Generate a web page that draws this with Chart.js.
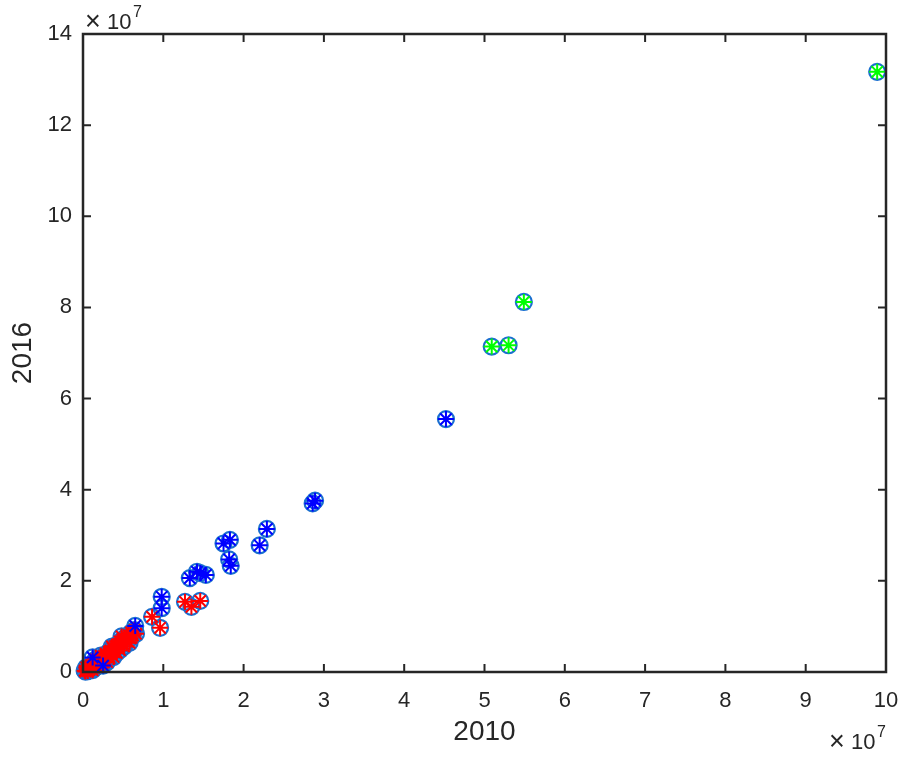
<!DOCTYPE html>
<html>
<head>
<meta charset="utf-8">
<script src="https://cdn.jsdelivr.net/npm/chart.js@4.4.1/dist/chart.umd.min.js"></script>
<style>
  html, body { margin: 0; padding: 0; background: #ffffff; }
  #wrap { width: 904px; height: 758px; }
</style>
</head>
<body>
<div id="wrap"><canvas id="c" width="904" height="758"></canvas></div>
<script>
// Values in units of 1e7 (axis exponent shown as ×10^7)
const xTitle = "2010";
const yTitle = "2016";
const xTicks = [0, 1, 2, 3, 4, 5, 6, 7, 8, 9, 10];
const yTicks = [0, 2, 4, 6, 8, 10, 12, 14];

// green asterisks
const greenPoints = [[9.89, 13.17], [5.49, 8.12], [5.09, 7.14], [5.30, 7.17]];

// blue asterisks
const bluePoints = [
  [4.52, 5.55], [2.89, 3.76], [2.86, 3.70], [2.29, 3.14], [2.20, 2.78],
  [1.83, 2.90], [1.75, 2.82], [1.82, 2.47], [1.84, 2.33], [1.42, 2.20],
  [1.33, 2.06], [1.53, 2.13], [1.46, 2.17], [0.98, 1.65], [0.98, 1.40],
  [0.65, 1.01], [0.12, 0.32], [0.25, 0.14]
];

// red asterisks
const redPoints = [
  [1.27, 1.54], [1.35, 1.43], [1.46, 1.56], [0.86, 1.21], [0.96, 0.97],
  [0.02, 0.03], [0.03, 0.01], [0.05, 0.06], [0.06, 0.02], [0.08, 0.10],
  [0.10, 0.07], [0.10, 0.15], [0.12, 0.04], [0.13, 0.18], [0.15, 0.21],
  [0.17, 0.12], [0.18, 0.24], [0.20, 0.28], [0.22, 0.19], [0.24, 0.31],
  [0.26, 0.35], [0.27, 0.26], [0.29, 0.39], [0.31, 0.34], [0.32, 0.44],
  [0.34, 0.47], [0.35, 0.40], [0.37, 0.52], [0.39, 0.45], [0.40, 0.57],
  [0.42, 0.53], [0.44, 0.61], [0.45, 0.57], [0.47, 0.66], [0.49, 0.71],
  [0.50, 0.62], [0.52, 0.73], [0.54, 0.78], [0.55, 0.67], [0.57, 0.81],
  [0.59, 0.74], [0.60, 0.87], [0.62, 0.80], [0.64, 0.92], [0.66, 0.84],
  [0.30, 0.22], [0.38, 0.33], [0.46, 0.48], [0.07, 0.13], [0.16, 0.28],
  [0.22, 0.36], [0.33, 0.30], [0.42, 0.42], [0.51, 0.56], [0.58, 0.64],
  [0.04, 0.10], [0.14, 0.09], [0.26, 0.21], [0.36, 0.56], [0.48, 0.78]
];

const toXY = arr => arr.map(p => ({ x: p[0], y: p[1] }));
const allPoints = redPoints.concat(bluePoints, greenPoints);

const FONT = "'Liberation Sans', Arial, Helvetica, sans-serif";
const AXIS_COLOR = '#262626';

const boxPlugin = {
  id: 'matlabBox',
  afterDatasetsDraw(chart) {
    const { ctx, chartArea: a, scales } = chart;
    ctx.save();
    ctx.strokeStyle = AXIS_COLOR;
    ctx.lineWidth = 2.5;
    ctx.lineCap = 'butt';
    ctx.strokeRect(a.left, a.top, a.right - a.left, a.bottom - a.top);
    const tl = 8;
    ctx.lineWidth = 2;
    ctx.beginPath();
    scales.x.ticks.forEach(t => {
      const px = scales.x.getPixelForValue(t.value);
      ctx.moveTo(px, a.bottom); ctx.lineTo(px, a.bottom - tl);
      ctx.moveTo(px, a.top); ctx.lineTo(px, a.top + tl);
    });
    scales.y.ticks.forEach(t => {
      const py = scales.y.getPixelForValue(t.value);
      ctx.moveTo(a.left, py); ctx.lineTo(a.left + tl, py);
      ctx.moveTo(a.right, py); ctx.lineTo(a.right - tl, py);
    });
    ctx.stroke();
    // exponent labels (×10^7)
    ctx.fillStyle = AXIS_COLOR;
    ctx.textBaseline = 'alphabetic';
    ctx.textAlign = 'left';
    const drawExp = (x, y) => {
      ctx.font = '27px ' + FONT;
      ctx.fillText('\u00d7', x - 1, y + 1);
      ctx.font = '22px ' + FONT;
      ctx.fillText('10', x + 21, y);
      ctx.font = '16px ' + FONT;
      ctx.fillText('7', x + 47, y - 12);
    };
    drawExp(a.left + 3, a.top - 5);
    drawExp(a.right - 56, 749);
    ctx.restore();
  }
};

new Chart(document.getElementById('c'), {
  type: 'scatter',
  data: {
    datasets: [
      { label: 'green', data: toXY(greenPoints), pointStyle: 'star', pointRadius: 8,
        borderColor: '#00ff00', backgroundColor: '#00ff00', pointBorderWidth: 2, clip: false },
      { label: 'blue', data: toXY(bluePoints), pointStyle: 'star', pointRadius: 8,
        borderColor: '#0000ff', backgroundColor: '#0000ff', pointBorderWidth: 2, clip: false },
      { label: 'red', data: toXY(redPoints), pointStyle: 'star', pointRadius: 8,
        borderColor: '#ff0000', backgroundColor: '#ff0000', pointBorderWidth: 2, clip: false },
      { label: 'circles', data: toXY(allPoints), pointStyle: 'circle', pointRadius: 8,
        borderColor: '#1a6fd0', backgroundColor: 'rgba(0,0,0,0)', pointBorderWidth: 2.2, clip: false }
    ]
  },
  options: {
    responsive: false,
    animation: false,
    events: [],
    layout: { padding: { left: 0, right: 18, top: 34, bottom: 0 } },
    plugins: { legend: { display: false }, tooltip: { enabled: false } },
    scales: {
      x: {
        type: 'linear', min: 0, max: 10,
        afterBuildTicks: s => { s.ticks = xTicks.map(v => ({ value: v })); },
        afterFit: s => { s.height = 86; s.paddingLeft = 0; s.paddingRight = 0; },
        grid: { display: false, drawTicks: false },
        border: { display: false },
        ticks: { color: AXIS_COLOR, font: { family: FONT, size: 22 }, padding: 16, maxRotation: 0,
                 callback: v => String(v) },
        title: { display: true, text: xTitle, color: AXIS_COLOR, font: { family: FONT, size: 28 },
                 padding: { top: 0, bottom: 9 } }
      },
      y: {
        type: 'linear', min: 0, max: 14,
        afterBuildTicks: s => { s.ticks = yTicks.map(v => ({ value: v })); },
        afterFit: s => { s.width = 83; s.paddingTop = 0; s.paddingBottom = 0; },
        grid: { display: false, drawTicks: false },
        border: { display: false },
        ticks: { color: AXIS_COLOR, font: { family: FONT, size: 22 }, padding: 11,
                 callback: v => String(v) },
        title: { display: true, text: yTitle, color: AXIS_COLOR, font: { family: FONT, size: 28 },
                 padding: { top: 6, bottom: 0 } }
      }
    }
  },
  plugins: [boxPlugin]
});
</script>
</body>
</html>
